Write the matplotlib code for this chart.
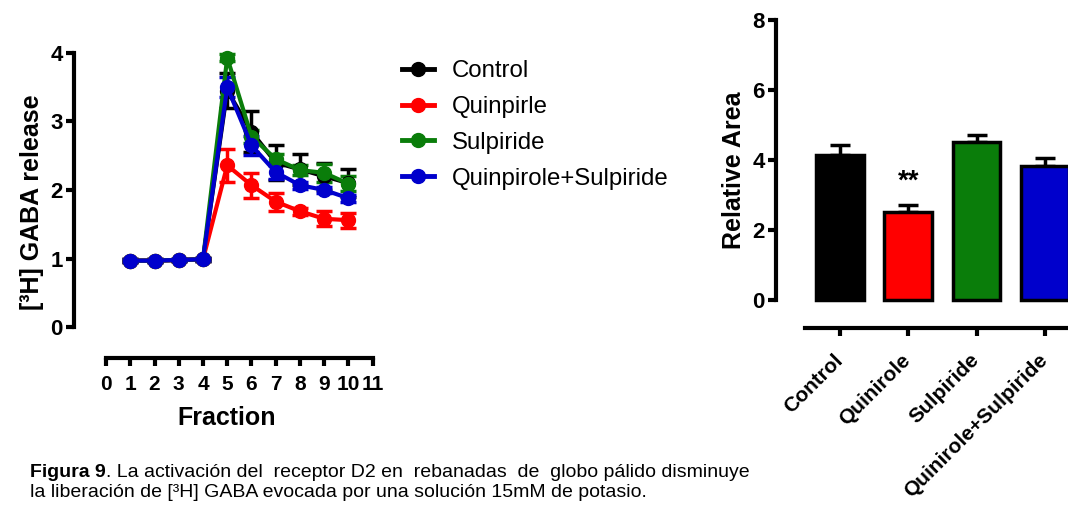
import matplotlib
matplotlib.use("Agg")
import matplotlib.pyplot as plt
import matplotlib.transforms as mtransforms
from matplotlib.lines import Line2D
import numpy as np

plt.rcParams['font.family'] = ['Liberation Sans', 'DejaVu Sans']

# ---- data: time course ----
fractions = [1, 2, 3, 4, 5, 6, 7, 8, 9, 10]
control = [0.97, 0.97, 0.98, 0.99, 3.45, 2.85, 2.40, 2.30, 2.20, 2.10]
control_err = [0.02, 0.02, 0.02, 0.02, 0.25, 0.30, 0.25, 0.23, 0.20, 0.20]
quinpirle = [0.97, 0.97, 0.98, 0.99, 2.36, 2.07, 1.83, 1.69, 1.58, 1.56]
quinpirle_err = [0.02, 0.02, 0.02, 0.02, 0.24, 0.18, 0.13, 0.05, 0.11, 0.11]
sulpiride = [0.97, 0.97, 0.98, 0.99, 3.93, 2.78, 2.45, 2.29, 2.25, 2.09]
sulpiride_err = [0.02, 0.02, 0.02, 0.02, 0.05, 0.10, 0.08, 0.07, 0.13, 0.11]
quin_sulp = [0.97, 0.97, 0.98, 0.99, 3.50, 2.65, 2.26, 2.07, 2.00, 1.88]
quin_sulp_err = [0.02, 0.02, 0.02, 0.02, 0.15, 0.14, 0.10, 0.05, 0.05, 0.05]
series_labels = ['Control', 'Quinpirle', 'Sulpiride', 'Quinpirole+Sulpiride']
x_ticks = list(range(0, 12))

# ---- data: bars ----
bar_categories = ['Control', 'Quinirole', 'Sulpiride', 'Quinirole+Sulpiride']
bar_values = [4.15, 2.52, 4.52, 3.83]
bar_errors = [0.28, 0.20, 0.19, 0.22]
bar_ticks = [0, 2, 4, 6, 8]

colors = ['#000000', '#ff0000', '#0a7d0a', '#0000cc']

W, H = 1068, 512
fig = plt.figure(figsize=(W / 100, H / 100), dpi=100)

# ---------------- left: line chart ----------------
ax = fig.add_axes([74 / W, (H - 358) / H, 306 / W, 312 / H])
ax.set_xlim(-1.32, 11.3)
ax.set_ylim(-0.45, 4.1)
series = [(control, control_err), (quinpirle, quinpirle_err),
          (sulpiride, sulpiride_err), (quin_sulp, quin_sulp_err)]
for (vals, errs), c in zip(series, colors):
    ax.errorbar(fractions, vals, yerr=errs, color=c, lw=3, marker='o', ms=10,
                capsize=6, capthick=2.5, elinewidth=2.5, zorder=3)
for s in ['top', 'right']:
    ax.spines[s].set_visible(False)
ax.spines['left'].set_bounds(0, 4)
ax.spines['bottom'].set_bounds(0, 11)
for s in ['left', 'bottom']:
    ax.spines[s].set_linewidth(3)
ax.set_yticks([0, 1, 2, 3, 4])
ax.set_xticks(x_ticks)
ax.tick_params(axis='both', width=3, length=6, direction='out')
ax.tick_params(axis='y', labelsize=16, pad=2)
ax.tick_params(axis='x', labelsize=15, pad=6)
for lab in ax.get_xticklabels() + ax.get_yticklabels():
    lab.set_fontweight('bold')
ax.set_xlabel('Fraction', fontsize=18, fontweight='bold', labelpad=9)
ax.set_ylabel('[³H] GABA release', fontsize=18, fontweight='bold', labelpad=5)

handles = [Line2D([], [], color=c, lw=3.5, marker='o', ms=10) for c in colors]
fig.legend(handles, series_labels, loc='center left',
           bbox_to_anchor=(402 / W, 1 - 125 / H), frameon=False,
           fontsize=17.3, handlelength=1.35, handletextpad=0.72,
           labelspacing=0.57, borderaxespad=0, borderpad=0)

# ---------------- right: bar chart ----------------
bx = fig.add_axes([776 / W, (H - 328) / H, (W - 776) / W, 315 / H])
bx.set_xlim(-0.937, 3.34)
bx.set_ylim(-0.8, 8.2)
xpos = np.arange(len(bar_categories))
bx.bar(xpos, bar_values, width=0.7, color=colors, edgecolor='black',
       linewidth=2.5, zorder=2)
bx.errorbar(xpos, bar_values, yerr=[np.zeros(len(bar_errors)), bar_errors],
            fmt='none', ecolor='black', elinewidth=2.5, capsize=7,
            capthick=2.5, zorder=1)
bx.text(xpos[1], bar_values[1] + bar_errors[1] + 0.3, '**', ha='center',
        va='bottom', fontsize=20, fontweight='bold')
for s in ['top', 'right']:
    bx.spines[s].set_visible(False)
bx.spines['left'].set_bounds(0, 8)
bx.spines['bottom'].set_bounds(-0.51, 3.34)
for s in ['left', 'bottom']:
    bx.spines[s].set_linewidth(3)
bx.set_yticks(bar_ticks)
bx.set_xticks(xpos)
bx.set_xticklabels(bar_categories, rotation=45, ha='right',
                   rotation_mode='anchor', fontsize=15, fontweight='bold')
bx.tick_params(axis='both', width=3, length=6, direction='out')
bx.tick_params(axis='y', labelsize=16, pad=2)
bx.tick_params(axis='x', pad=10)
shift = mtransforms.ScaledTranslation(-7 / 100, 0, fig.dpi_scale_trans)
for lab in bx.get_xticklabels():
    lab.set_transform(lab.get_transform() + shift)
for lab in bx.get_yticklabels():
    lab.set_fontweight('bold')
bx.set_ylabel('Relative Area', fontsize=18, fontweight='bold', labelpad=5)

# ---------------- caption ----------------
cap_font = ['Liberation Sans', 'DejaVu Sans']
t1 = fig.text(30 / W, 1 - 477 / H, 'Figura 9', fontsize=14, fontweight='bold',
              family=cap_font, va='baseline')
fig.canvas.draw()
bb = t1.get_window_extent()
fig.text(bb.x1 / W, 1 - 477 / H,
         '. La activación del  receptor D2 en  rebanadas  de  globo pálido disminuye',
         fontsize=14, family=cap_font, va='baseline')
fig.text(30 / W, 1 - 497 / H,
         'la liberación de [³H] GABA evocada por una solución 15mM de potasio.',
         fontsize=14, family=cap_font, va='baseline')

fig.savefig('out.png', dpi=100)
